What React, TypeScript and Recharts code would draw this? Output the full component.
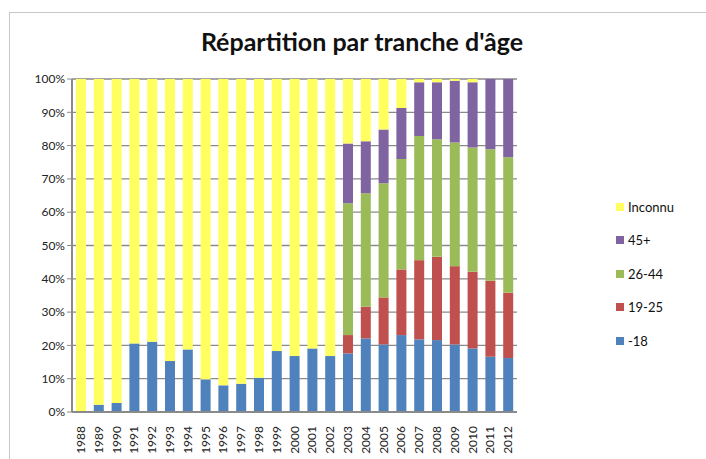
import React from 'react';
import { BarChart, Bar, XAxis, YAxis, CartesianGrid, Legend } from 'recharts';

const years = [
  '1988', '1989', '1990', '1991', '1992', '1993', '1994', '1995', '1996', '1997', '1998', '1999', '2000',
  '2001', '2002', '2003', '2004', '2005', '2006', '2007', '2008', '2009', '2010', '2011', '2012',
];

// shares in %
const moins18 = [0, 2.2, 2.7, 20.6, 21.1, 15.3, 18.8, 9.8, 8.0, 8.5, 10.3, 18.3, 16.8, 19.1, 16.8, 17.6, 22.1, 20.3, 23.1, 21.8, 21.6, 20.3, 19.1, 16.6, 16.2];
const de19a25 = [0, 0, 0, 0, 0, 0, 0, 0, 0, 0, 0, 0, 0, 0, 0, 5.5, 9.5, 14.1, 19.7, 23.8, 25.0, 23.5, 23.0, 22.8, 19.6];
const de26a44 = [0, 0, 0, 0, 0, 0, 0, 0, 0, 0, 0, 0, 0, 0, 0, 39.6, 34.1, 34.3, 33.2, 37.3, 35.3, 37.1, 37.3, 39.5, 40.7];
const plus45 = [0, 0, 0, 0, 0, 0, 0, 0, 0, 0, 0, 0, 0, 0, 0, 17.9, 15.6, 16.1, 15.3, 16.1, 17.1, 18.6, 19.6, 21.1, 23.5];
const inconnu = [100, 97.8, 97.3, 79.4, 78.9, 84.7, 81.2, 90.2, 92.0, 91.5, 89.7, 81.7, 83.2, 80.9, 83.2, 19.4, 18.7, 15.2, 8.7, 1.0, 1.0, 0.5, 1.0, 0, 0];

const yTicks = [0, 10, 20, 30, 40, 50, 60, 70, 80, 90, 100];

const series = [
  { key: 'm18', name: '-18', color: '#4F81BD' },
  { key: 'a19', name: '19-25', color: '#C0504D' },
  { key: 'a26', name: '26-44', color: '#9BBB59' },
  { key: 'p45', name: '45+', color: '#8064A2' },
  { key: 'inc', name: 'Inconnu', color: '#FFFF60' },
];

const data = years.map((y, i) => ({
  year: y,
  m18: moins18[i],
  a19: de19a25[i],
  a26: de26a44[i],
  p45: plus45[i],
  inc: inconnu[i],
}));

const FONT = 'Lato, "Open Sans", sans-serif';

const YearTick = (props: any) => {
  const { x, y, payload } = props;
  return (
    <text
      x={0}
      y={0}
      transform={`translate(${x + 4},${y + 6}) rotate(-90)`}
      textAnchor="end"
      fontSize={12}
      fill="#222"
      fontFamily={FONT}
    >
      {payload.value}
    </text>
  );
};

const SideLegend = () => (
  <div style={{ fontFamily: FONT, fontSize: 13, color: '#111' }}>
    {[...series].reverse().map((s) => (
      <div key={s.key} style={{ display: 'flex', alignItems: 'center', height: 33.5 }}>
        <span style={{ width: 8, height: 8, background: s.color, marginRight: 4, display: 'inline-block' }} />
        <span>{s.name}</span>
      </div>
    ))}
  </div>
);

export default function App() {
  return (
    <div style={{ position: 'absolute', left: 0, top: 0, width: 706, height: 459, background: '#fff', overflow: 'hidden' }}>
      <div
        style={{
          position: 'absolute',
          left: 9,
          top: 12,
          width: 720,
          height: 470,
          borderLeft: '1.5px solid #c6c6c6',
          borderTop: '1.5px solid #c6c6c6',
        }}
      />
      <div
        style={{
          position: 'absolute',
          left: 0,
          top: 26,
          width: 724,
          textAlign: 'center',
          fontFamily: FONT,
          fontWeight: 'bold',
          fontSize: 25,
          color: '#111',
        }}
      >
        Répartition par tranche d'âge
      </div>
      <div style={{ position: 'absolute', left: 0, top: 0 }}>
        <BarChart
          width={706}
          height={459}
          data={data}
          margin={{ top: 79, right: 99, left: 8, bottom: 7 }}
          barSize={10}
        >
          <CartesianGrid vertical={false} stroke="#8a8a8a" strokeWidth={1.3} />
          <XAxis
            dataKey="year"
            interval={0}
            height={40}
            tick={<YearTick />}
            tickLine={false}
            axisLine={{ stroke: '#8a8a8a', strokeWidth: 2 }}
          />
          <YAxis
            domain={[0, 100]}
            ticks={yTicks}
            width={64}
            tickFormatter={(v) => `${v}%`}
            tick={{ fontSize: 12, fill: '#222', fontFamily: FONT }}
            tickLine={{ stroke: '#8a8a8a' }}
            tickSize={5}
            axisLine={{ stroke: '#8a8a8a', strokeWidth: 2 }}
            allowDataOverflow
          />
          <Legend
            content={<SideLegend />}
            layout="vertical"
            verticalAlign="top"
            align="right"
            wrapperStyle={{ position: 'absolute', left: 616, top: 190, width: 90 }}
          />
          {series.map((s) => (
            <Bar key={s.key} dataKey={s.key} name={s.name} stackId="a" fill={s.color} isAnimationActive={false} />
          ))}
        </BarChart>
      </div>
    </div>
  );
}
